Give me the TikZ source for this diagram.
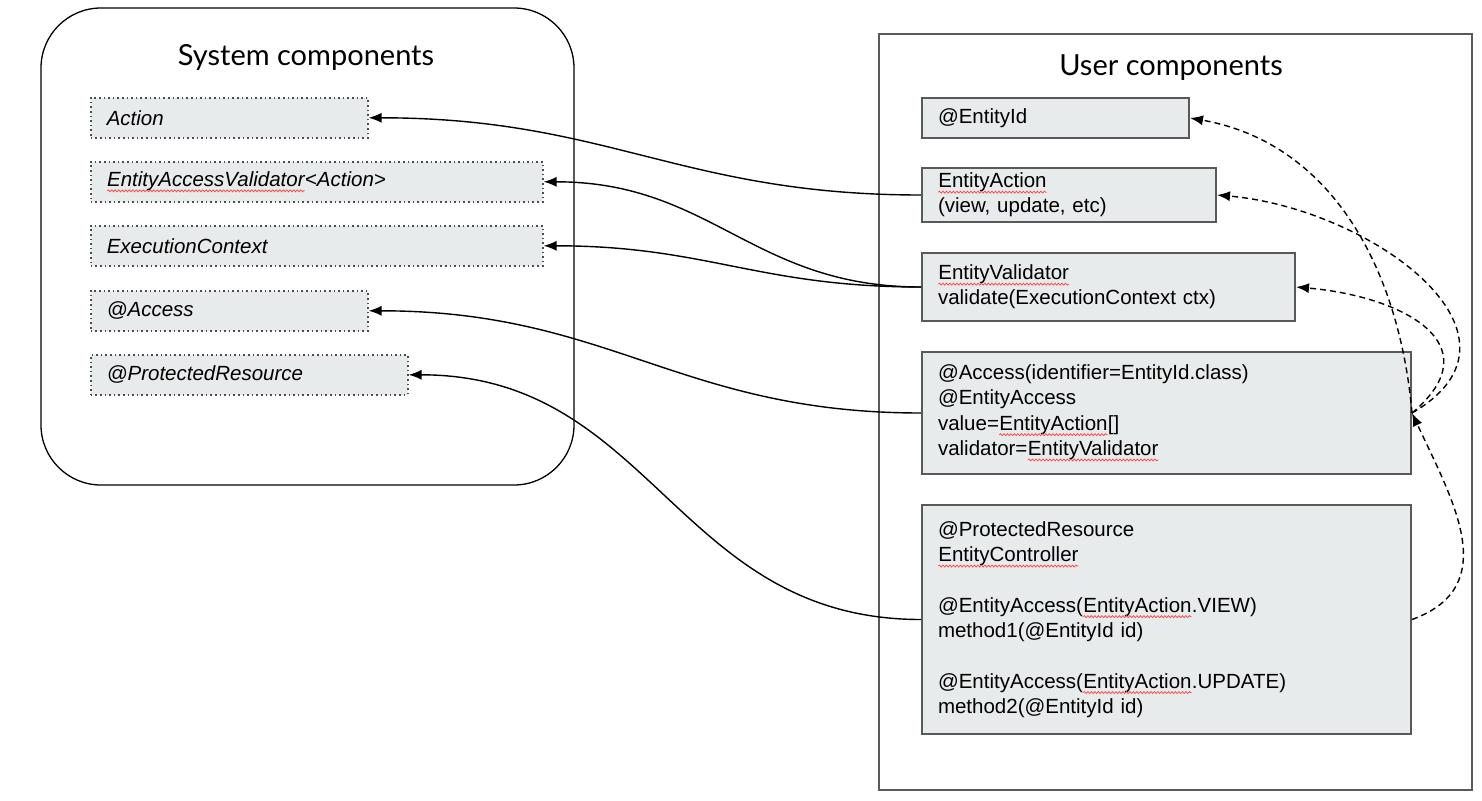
\documentclass[tikz,border=0pt]{standalone}
\usepackage{fontspec}
\setmainfont{Liberation Sans}
\newfontfamily\lato{Lato}
\usetikzlibrary{arrows.meta, decorations.pathmorphing}
\definecolor{boxfill}{HTML}{E8EBEB}
\definecolor{edge}{HTML}{595959}
\newcommand\sq[1]{\tikz[baseline=(w.base)]{\node[inner sep=0pt, outer sep=0pt, minimum size=0pt, text width={}, anchor=base west] (w) {#1}; \draw[red!75, line width=0.7pt, decorate, decoration={snake, amplitude=1pt, segment length=3.5pt}] ([yshift=-4.5pt]w.base west) -- ([yshift=-4.5pt]w.base east);}}
\newcommand\boxtxt{\fontsize{20.5}{25.3}\selectfont}

\begin{document}
\begin{tikzpicture}[x=1pt, y=-1pt,
  sbox/.style={draw=edge!85!black, dash pattern=on 1.6pt off 3pt, line width=1.6pt, fill=boxfill, anchor=north west, align=left, inner xsep=16pt, inner ysep=0pt, font=\boxtxt\itshape},
  ubox/.style={draw=edge, line width=2pt, fill=boxfill, anchor=north west, align=left, inner xsep=16pt, inner ysep=0pt, font=\boxtxt},
  title/.style={font=\lato\fontsize{29}{31}\selectfont},
  link/.style={-{Latex[length=13pt,width=10pt]}, line width=1.4pt},
  dep/.style={link, dash pattern=on 6pt off 4pt}]
\useasboundingbox (0,0) rectangle (1482,800);
\draw[rounded corners=60pt, line width=1.3pt] (41,8) rectangle (574,485);
\draw[edge, line width=1.6pt] (879,34) rectangle (1472,790);
\node[title] (systitle) at (306,57) {System components};
\node[title] (usertitle) at (1171,68) {User components};

\node[sbox, text width=245pt, minimum height=40pt] (action) at (90,97) {Action};
\node[sbox, text width=420pt, minimum height=40pt] (eav) at (90,161) {\sq{EntityAccessValidator}<Action>};
\node[sbox, text width=420pt, minimum height=40pt] (ctx) at (90,225) {ExecutionContext};
\node[sbox, text width=245pt, minimum height=40pt] (access) at (90,290) {@Access};
\node[sbox, text width=285pt, minimum height=40pt] (prot) at (90,354) {@ProtectedResource};

\node[ubox, text width=235pt, minimum height=40pt] (eid) at (921,97) {@EntityId};
\node[ubox, text width=262pt, minimum height=54pt] (eact) at (921,167) {\sq{EntityAction}\\(view, update, etc)};
\node[ubox, text width=341pt, minimum height=68pt] (eval) at (921,252) {\sq{EntityValidator}\\validate(ExecutionContext ctx)};
\node[ubox, text width=457pt, minimum height=122pt] (eacc) at (921,351) {@Access(identifier=EntityId.class)\\@EntityAccess\\value=\sq{EntityAction}[]\\validator=\sq{EntityValidator}};
\node[ubox, text width=457pt, minimum height=229pt] (ctrl) at (921,504) {@ProtectedResource\\\sq{EntityController}\\[25.3pt]@EntityAccess(\sq{EntityAction}.VIEW)\\method1(@EntityId id)\\[25.3pt]@EntityAccess(\sq{EntityAction}.UPDATE)\\method2(@EntityId id)};

\draw[link] (eact.west) to[out=180, in=0, looseness=1.1] (action.east);
\draw[link] (eval.west) to[out=180, in=0, looseness=1.1] (eav.east);
\draw[link] (eval.west) to[out=180, in=0, looseness=1.1] (ctx.east);
\draw[link] (eacc.west) to[out=180, in=0, looseness=1.1] (access.east);
\draw[link] (ctrl.west) to[out=180, in=0, looseness=1.1] (prot.east);

\draw[dep] (ctrl.east) to[out=20, in=-65, looseness=1.2] (eacc.east);
\draw[dep] (eacc.east) to[out=95, in=-10] (eid.east);
\draw[dep] (eacc.east) to[out=30, in=-5, looseness=1.35] (eact.east);
\draw[dep] (eacc.east) to[out=40, in=-5, looseness=1.6] (eval.east);
\end{tikzpicture}
\end{document}
